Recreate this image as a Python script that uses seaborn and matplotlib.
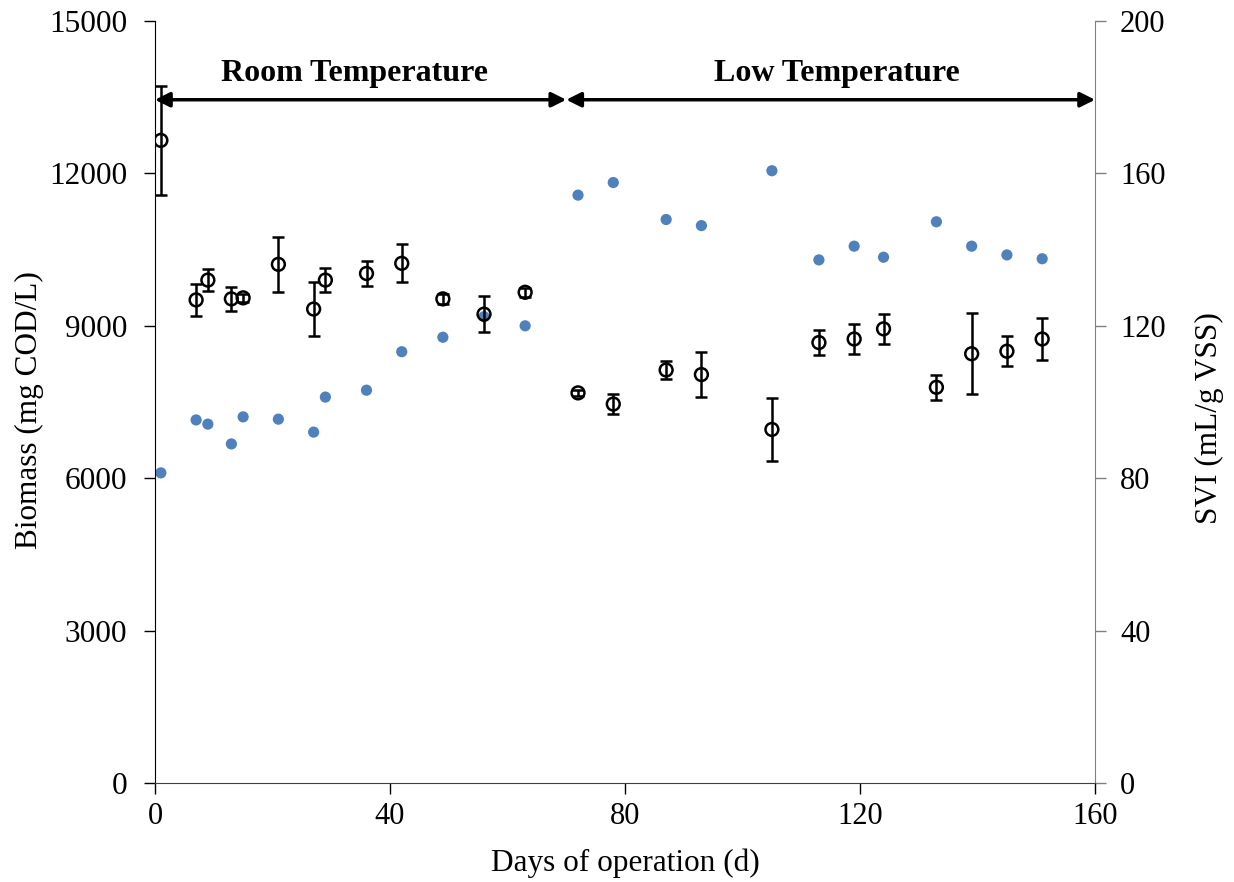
import numpy as np
import pandas as pd
import matplotlib
matplotlib.use('Agg')
import matplotlib.pyplot as plt
import seaborn as sns

# biomass (left axis), black open circles with error bars
bio_days = [1, 7, 9, 13, 15, 21, 27, 29, 36, 42, 49, 56, 63,
            72, 78, 87, 93, 105, 113, 119, 124, 133, 139, 145, 151]
biomass = [12650, 9510, 9900, 9530, 9550, 10210, 9330, 9900, 10030, 10230, 9530, 9230, 9660,
           7680, 7460, 8130, 8040, 6960, 8670, 8740, 8940, 7790, 8450, 8500, 8740]
bio_err = [1080, 320, 210, 230, 80, 545, 535, 230, 245, 375, 100, 360, 90,
           60, 205, 180, 450, 625, 250, 290, 295, 250, 800, 290, 410]

# SVI (right axis), blue dots
svi_days = [1, 7, 9, 13, 15, 21, 27, 29, 36, 42, 49, 56, 63,
            72, 78, 87, 93, 105, 113, 119, 124, 133, 139, 145, 151]
svi = [81.4, 95.3, 94.2, 89.0, 96.1, 95.5, 92.1, 101.3, 103.1, 113.2, 117.0, 122.4, 120.0,
       154.3, 157.6, 147.9, 146.3, 160.7, 137.3, 140.9, 138.0, 147.3, 140.9, 138.6, 137.6]

phase_labels = ['Room Temperature', 'Low Temperature']
phase_bounds = [(0, 70), (70, 160)]
phase_text_x = [34, 116]

sns.set_style('white')
plt.rcParams['font.family'] = ['Liberation Serif', 'DejaVu Serif']
plt.rcParams['text.color'] = 'black'
plt.rcParams['axes.labelcolor'] = 'black'
plt.rcParams['xtick.color'] = 'black'
plt.rcParams['ytick.color'] = 'black'

df_bio = pd.DataFrame({'day': bio_days, 'biomass': biomass, 'err': bio_err})
df_svi = pd.DataFrame({'day': svi_days, 'svi': svi})

fig, ax = plt.subplots(figsize=(12.34, 8.82), dpi=100)
fig.subplots_adjust(left=0.1256, right=0.8874, bottom=0.1122, top=0.9762)
ax2 = ax.twinx()

# blue SVI dots
sns.scatterplot(data=df_svi, x='day', y='svi', ax=ax2, color='#4F81BD',
                s=65, edgecolor='none', zorder=2, legend=False)

# biomass with error bars
ax.errorbar(df_bio['day'], df_bio['biomass'], yerr=df_bio['err'], fmt='none',
            ecolor='black', elinewidth=1.8, capsize=4.5, capthick=1.8, zorder=3)
sns.scatterplot(data=df_bio, x='day', y='biomass', ax=ax, marker='o',
                facecolor='none', edgecolor='black', linewidth=1.8, s=85,
                zorder=4, legend=False)

# put biomass on top
ax.set_zorder(ax2.get_zorder() + 1)
ax.patch.set_visible(False)

ax.set_xlim(0, 160)
ax.set_ylim(0, 15000)
ax2.set_ylim(0, 200)
ax.set_xticks([0, 40, 80, 120, 160])
ax.set_yticks([0, 3000, 6000, 9000, 12000, 15000])
ax2.set_yticks([0, 40, 80, 120, 160, 200])

ax.set_xlabel('Days of operation (d)', fontsize=22.5, labelpad=12)
ax.set_ylabel('Biomass (mg COD/L)', fontsize=22.5)
ax2.set_ylabel('SVI (mL/g VSS)', fontsize=22.5)
ax.yaxis.set_label_coords(-0.118, 0.49)
ax2.yaxis.set_label_coords(1.106, 0.479)

ax.tick_params(axis='x', labelsize=22, direction='out', length=8, width=1,
               bottom=True, pad=6)
ax.tick_params(axis='y', labelsize=22.5, direction='out', length=8, width=1,
               left=True, pad=12)
ax2.tick_params(axis='y', labelsize=22, direction='out', length=8, width=1,
                right=True, color='#808080', labelcolor='black', pad=10)

for a in (ax, ax2):
    a.spines['top'].set_visible(False)
ax.spines['left'].set_color('black')
ax.spines['bottom'].set_color('#404040')
ax.spines['right'].set_visible(False)
ax2.spines['left'].set_visible(False)
ax2.spines['bottom'].set_visible(False)
ax2.spines['right'].set_color('#808080')

# phase arrows and labels
arrow_y = 13450
for (x0, x1), lab, tx in zip(phase_bounds, phase_labels, phase_text_x):
    ax.annotate('', xy=(x0, arrow_y), xytext=(x1, arrow_y),
                arrowprops=dict(arrowstyle='<|-|>', color='black', lw=2.5,
                                mutation_scale=22, shrinkA=0, shrinkB=0),
                zorder=5)
    ax.text(tx, arrow_y + 230, lab, ha='center', va='bottom', fontsize=23,
            fontweight='bold')

fig.savefig('out.png', dpi=100)
